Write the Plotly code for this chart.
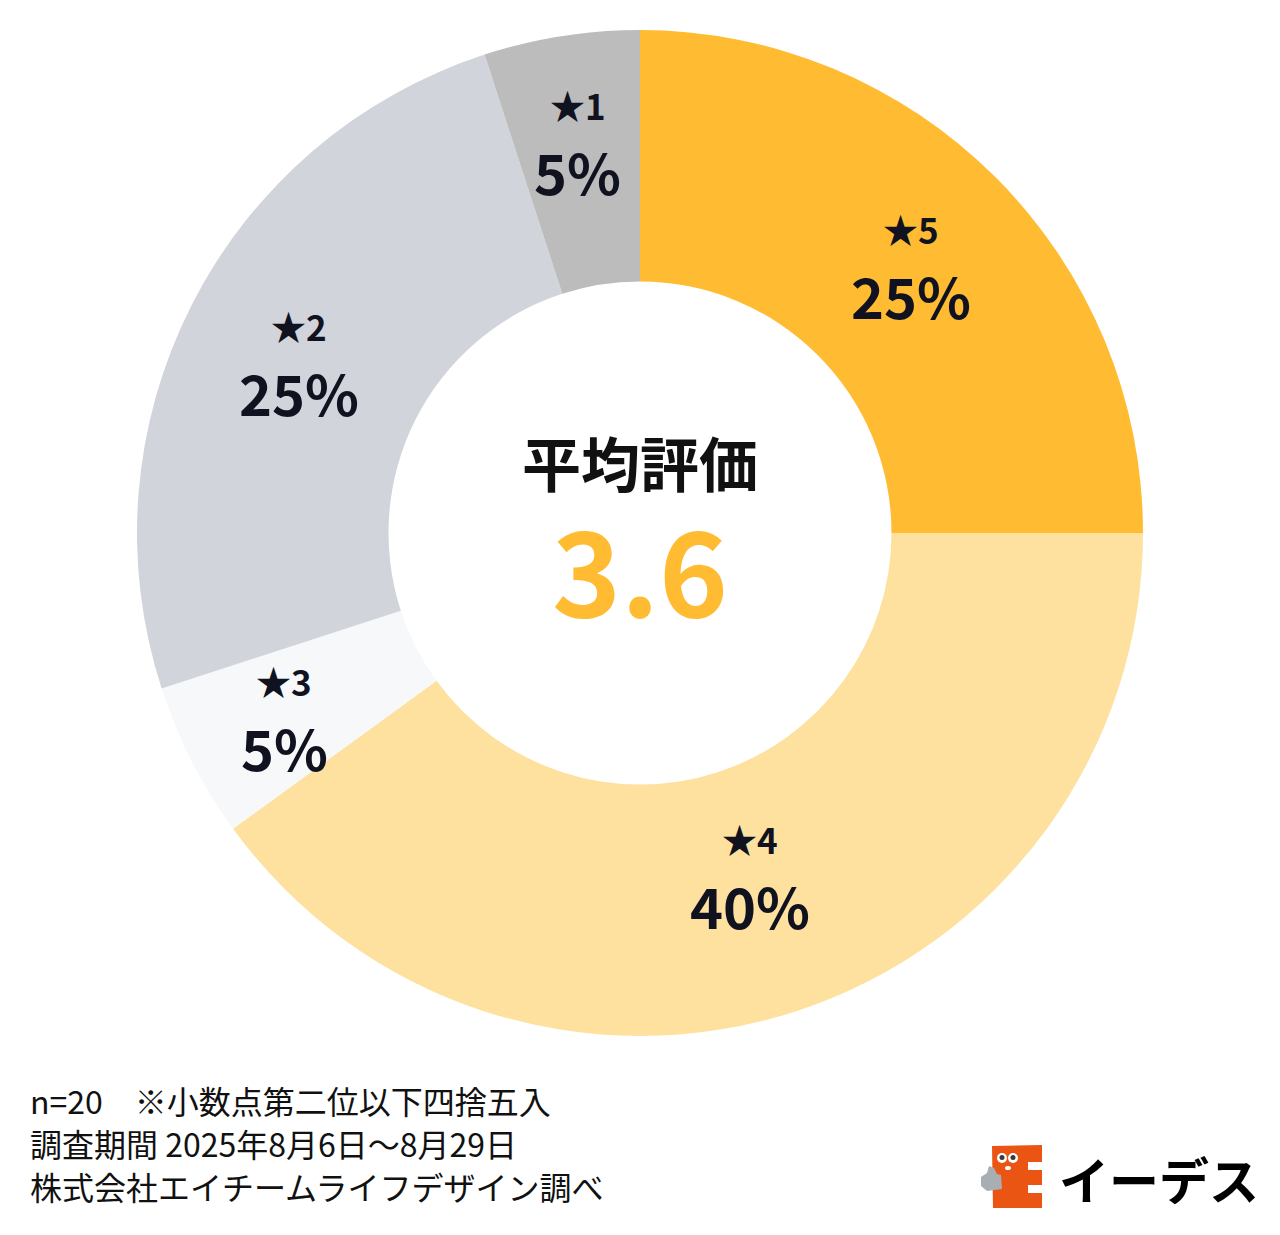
import math
import plotly.graph_objects as go

# ---- data ----
categories = ["★5", "★4", "★3", "★2", "★1"]
shares = [25, 40, 5, 25, 5]
slice_colors = ["#FFBC33", "#FEE09F", "#F6F8FA", "#D1D4DB", "#BCBCBC"]
center_title = "平均評価"
center_value = "3.6"
footer_lines = [
    "n=20　※小数点第二位以下四捨五入",
    "調査期間 2025年8月6日～8月29日",
    "株式会社エイチームライフデザイン調べ",
]
brand = "イーデス"

W, H = 1280, 1235
CX, CY, R = 640, 533, 503
HOLE = 0.5
TXT = "#10131F"
FONT = "Noto Sans CJK JP"


def px(x):
    return x / W


def py(y):
    return 1 - y / H


def label_radius(share):
    # big slices pull their label a little toward the hole
    return 400 - 0.027 * share ** 2


fig = go.Figure()
fig.add_trace(go.Pie(
    labels=categories,
    values=shares,
    sort=False,
    direction="clockwise",
    rotation=0,
    hole=HOLE,
    marker=dict(colors=slice_colors, line=dict(width=0)),
    textinfo="none",
    hoverinfo="label+percent",
    showlegend=False,
    domain=dict(x=[px(CX - R), px(CX + R)], y=[py(CY + R), py(CY - R)]),
))

annotations = []
total = sum(shares)
cum = 0
for cat, v in zip(categories, shares):
    mid = (cum + v / 2) / total
    cum += v
    th = 2 * math.pi * mid
    rl = label_radius(v)
    lx = CX + rl * math.sin(th)
    ly = CY - rl * math.cos(th)
    annotations.append(dict(
        x=px(lx), y=py(ly), xref="paper", yref="paper", showarrow=False,
        text=f"<b>{cat}</b>", yshift=34, xanchor="center", yanchor="middle",
        font=dict(family=FONT, size=35, color=TXT)))
    annotations.append(dict(
        x=px(lx), y=py(ly), xref="paper", yref="paper", showarrow=False,
        text=f"<b>{v}%</b>", yshift=-32, xanchor="center", yanchor="middle",
        font=dict(family=FONT, size=56, color=TXT)))

annotations.append(dict(
    x=px(CX), y=py(461), xref="paper", yref="paper", showarrow=False,
    text=f"<b>{center_title}</b>", xanchor="center", yanchor="middle",
    height=64,
    font=dict(family=FONT, size=59, color="#111111")))
annotations.append(dict(
    x=px(CX), y=py(566), xref="paper", yref="paper", showarrow=False,
    text=f"<b>{center_value}</b>", xanchor="center", yanchor="middle",
    height=110,
    font=dict(family=FONT, size=117, color="#FFBC33")))

for i, line in enumerate(footer_lines):
    annotations.append(dict(
        x=px(28), y=py(1100 + 43 * i), xref="paper", yref="paper", showarrow=False,
        text=line, xanchor="left", yanchor="middle",
        font=dict(family=FONT, size=32, color="#111111")))

annotations.append(dict(
    x=px(1159), y=py(1178), xref="paper", yref="paper", showarrow=False,
    text=f"<b>{brand}</b>", xanchor="center", yanchor="middle",
    font=dict(family=FONT, size=50, color="#000000")))


# ---- logo shapes (decoration) ----
def path(points):
    s = ""
    for i, (x, y) in enumerate(points):
        s += ("M" if i == 0 else "L") + f"{px(x):.5f},{py(y):.5f} "
    return s + "Z"


shapes = []
# orange E
shapes.append(dict(type="path", xref="paper", yref="paper",
                   path=path([(992, 1146), (1042, 1145), (1042, 1162), (1028, 1162),
                              (1028, 1170), (1042, 1170), (1042, 1185), (1028, 1185),
                              (1028, 1193), (1042, 1193), (1042, 1208), (993, 1208)]),
                   fillcolor="#EA5514", line=dict(width=0), layer="above"))
# gray thumb
shapes.append(dict(type="path", xref="paper", yref="paper",
                   path=path([(989, 1166), (994, 1168), (997, 1174), (1001, 1175),
                              (1002, 1189), (987, 1191), (981, 1186), (981, 1177), (987, 1173)]),
                   fillcolor="#A9AEB3", line=dict(width=0), layer="above"))
for ex in (1002, 1013):
    shapes.append(dict(type="circle", xref="paper", yref="paper",
                       x0=px(ex - 5), x1=px(ex + 5), y0=py(1163), y1=py(1153),
                       fillcolor="#FFFFFF", line=dict(width=0), layer="above"))
    shapes.append(dict(type="circle", xref="paper", yref="paper",
                       x0=px(ex - 2.5), x1=px(ex + 2.5), y0=py(1160), y1=py(1155),
                       fillcolor="#3A3A3A", line=dict(width=0), layer="above"))
shapes.append(dict(type="circle", xref="paper", yref="paper",
                   x0=px(1005), x1=px(1011), y0=py(1170), y1=py(1166),
                   fillcolor="#FFFFFF", line=dict(width=0), layer="above"))

fig.update_layout(
    width=W, height=H,
    margin=dict(l=0, r=0, t=0, b=0),
    paper_bgcolor="#FFFFFF",
    plot_bgcolor="#FFFFFF",
    annotations=annotations,
    shapes=shapes,
    font=dict(family=FONT),
)

fig.write_html("out.html")
